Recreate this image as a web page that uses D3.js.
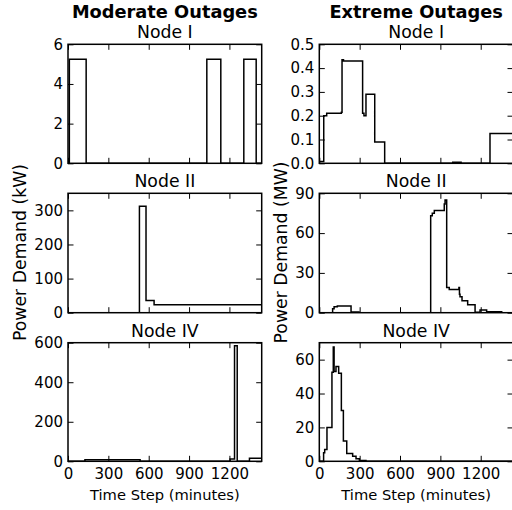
<!DOCTYPE html>
<html><head><meta charset="utf-8">
<script src="https://cdn.jsdelivr.net/npm/d3@7"></script>
<style>
html,body{margin:0;padding:0;background:#fff;}
svg{display:block;font-family:"DejaVu Sans",sans-serif;}
</style></head>
<body>
<svg id="c" width="512" height="510"></svg>
<script>
// ---- data (time in minutes, step-after values) ----
const timeTicks = [0, 300, 600, 900, 1200];
const timeMax = 1440;

const modNode1T = [0, 10, 135, 1032, 1136, 1307, 1399];
const modNode1V = [0, 5.25, 0, 5.25, 0, 5.25, 0];
const modNode2T = [0, 531, 580, 640];
const modNode2V = [0, 312, 36, 23];
const modNode4T = [0, 126, 536, 1205, 1238, 1258, 1349];
const modNode4V = [0, 8, 0, 12, 585, 0, 16];

const extNode1T = [0, 33, 55, 164, 169, 180, 322, 332, 347, 412, 486, 992, 1054, 1269];
const extNode1V = [0.008, 0.2, 0.21, 0.215, 0.435, 0.43, 0.21, 0.2, 0.29, 0.09, 0, 0.004, 0, 0.125];
const extNode2T = [0, 99, 110, 134, 236, 295, 828, 840, 855, 929, 935, 947, 966, 1038, 1042, 1046, 1061, 1103, 1158, 1195, 1244, 1356];
const extNode2V = [0, 3, 4.5, 5, 0.5, 0, 73, 75, 77, 82, 85, 19, 17.5, 19, 14, 12, 9, 6, 0.3, 2, 0.7, 0];
const extNode4T = [0, 32, 40, 57, 94, 104, 110, 124, 144, 164, 179, 204, 248, 273, 298, 347];
const extNode4V = [0, 5, 7, 20, 52.5, 67.5, 53, 56, 52, 30, 12, 4.6, 3, 1.5, 0.5, 0];

const columnTitles = ["Moderate Outages", "Extreme Outages"];
const nodeTitles = ["Node I", "Node II", "Node IV"];
const yLabels = ["Power Demand (kW)", "Power Demand (MW)"];
const xLabel = "Time Step (minutes)";

const yMax = [[6, 350, 600], [0.5, 90, 70]];
const yTicks = [
  [[0, 2, 4, 6], [0, 100, 200, 300], [0, 200, 400, 600]],
  [[0, 0.1, 0.2, 0.3, 0.4, 0.5], [0, 30, 60, 90], [0, 20, 40, 60]]
];
const yFormats = [[d3.format("d"), d3.format("d"), d3.format("d")],
                  [d3.format(".1f"), d3.format("d"), d3.format("d")]];
const series = [
  [[modNode1T, modNode1V], [modNode2T, modNode2V], [modNode4T, modNode4V]],
  [[extNode1T, extNode1V], [extNode2T, extNode2V], [extNode4T, extNode4V]]
];

// ---- layout ----
const colX = [[68, 261.7], [319.3, 513]];
const rowY = [[44.3, 163.3], [193.3, 312.7], [342.7, 461.3]];
const tickLen = 5.5;
const lw = 1.5;

const svg = d3.select("#c");

for (let c = 0; c < 2; c++) {
  const [x0, x1] = colX[c];
  const cx = (x0 + x1) / 2;
  svg.append("text").attr("x", cx).attr("y", 17.5).attr("text-anchor", "middle")
    .attr("font-size", 17.8).attr("font-weight", "bold").text(columnTitles[c]);
  for (let r = 0; r < 3; r++) {
    const [y0, y1] = rowY[r];
    const x = d3.scaleLinear().domain([0, timeMax]).range([x0, x1]);
    const y = d3.scaleLinear().domain([0, yMax[c][r]]).range([y1, y0]);
    const g = svg.append("g");
    const clipId = `clip${c}${r}`;
    g.append("clipPath").attr("id", clipId).append("rect")
      .attr("x", x0).attr("y", y0 - 1).attr("width", x1 - x0).attr("height", y1 - y0 + 1);

    const [T, V] = series[c][r];
    const pts = T.map((t, i) => [t, V[i]]);
    pts.push([timeMax, V[V.length - 1]]);
    const line = d3.line().x(d => x(d[0])).y(d => y(d[1])).curve(d3.curveStepAfter);
    g.append("path").attr("d", line(pts)).attr("fill", "none").attr("stroke", "#000")
      .attr("stroke-width", lw).attr("clip-path", `url(#${clipId})`);

    // axes
    const left = d3.axisLeft(y).tickValues(yTicks[c][r]).tickFormat(yFormats[c][r])
      .tickSizeInner(-tickLen).tickSizeOuter(0).tickPadding(5);
    const right = d3.axisRight(y).tickValues(yTicks[c][r]).tickFormat("")
      .tickSizeInner(-tickLen).tickSizeOuter(0);
    const top = d3.axisTop(x).tickValues(timeTicks).tickFormat("")
      .tickSizeInner(-tickLen).tickSizeOuter(0);
    const bottom = d3.axisBottom(x).tickValues(timeTicks)
      .tickFormat(r === 2 ? d3.format("d") : "")
      .tickSizeInner(-tickLen).tickSizeOuter(0).tickPadding(7);

    const styleAxis = sel => {
      sel.select(".domain").remove();
      sel.selectAll(".tick line").attr("stroke", "#000").attr("stroke-width", 1);
      sel.selectAll(".tick text").attr("fill", "#000").attr("font-size", 15)
        .attr("font-family", "DejaVu Sans");
    };
    g.append("g").attr("transform", `translate(${x0},0)`).call(left).call(styleAxis);
    g.append("g").attr("transform", `translate(${x1},0)`).call(right).call(styleAxis);
    g.append("g").attr("transform", `translate(0,${y0})`).call(top).call(styleAxis);
    g.append("g").attr("transform", `translate(0,${y1})`).call(bottom).call(styleAxis);

    g.append("rect").attr("x", x0).attr("y", y0).attr("width", x1 - x0).attr("height", y1 - y0)
      .attr("fill", "none").attr("stroke", "#000").attr("stroke-width", lw);

    g.append("text").attr("x", cx).attr("y", y0 - 6).attr("text-anchor", "middle")
      .attr("font-size", 17.3).text(nodeTitles[r]);
  }
  // x label
  svg.append("text").attr("x", cx).attr("y", 500).attr("text-anchor", "middle")
    .attr("font-size", 14.7).text(xLabel);
  // y label
  const lx = c === 0 ? 26 : 287;
  svg.append("text").attr("transform", `translate(${lx},252.5) rotate(-90)`)
    .attr("text-anchor", "middle").attr("font-size", 17.3).text(yLabels[c]);
}
</script>
</body></html>
